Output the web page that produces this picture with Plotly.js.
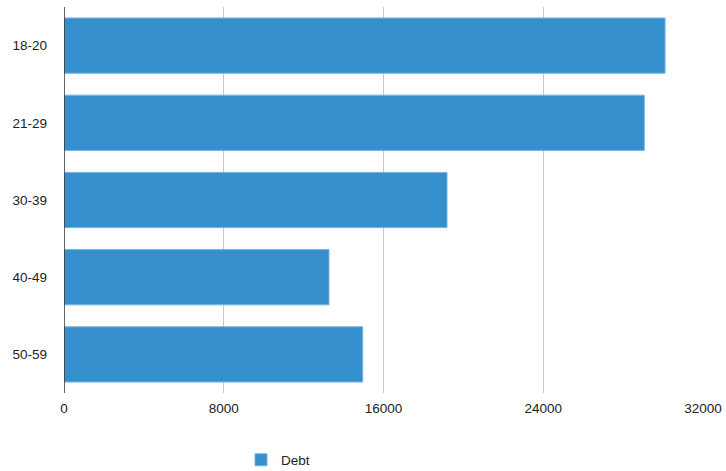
<!DOCTYPE html>
<html>
<head>
<meta charset="utf-8">
<script src="https://cdn.plot.ly/plotly-3.0.1.min.js"></script>
<style>html,body{margin:0;padding:0;background:#fff;}#chart{width:726px;height:471px;}</style>
</head>
<body>
<div id="chart"></div>
<script>
var categories = ["18-20", "21-29", "30-39", "40-49", "50-59"];
var debtValues = [30100, 29060, 19180, 13270, 14960];
var xTickValues = [0, 8000, 16000, 24000, 32000];
var xTickLabels = ["0", "8000", "16000", "24000", "32000"];
var seriesName = "Debt";

var trace = {
  type: "bar",
  orientation: "h",
  name: seriesName,
  y: categories,
  x: debtValues,
  marker: {color: "#368fcd", line: {color: "#73b3e3", width: 1}},
  showlegend: true,
  hoverinfo: "x+y"
};

var layout = {
  width: 726, height: 471,
  margin: {l: 64, r: 23, t: 7, b: 78, pad: 0, autoexpand: false},
  paper_bgcolor: "#ffffff", plot_bgcolor: "#ffffff",
  font: {family: "Liberation Sans, Arial, sans-serif", size: 13.5, color: "#222222"},
  bargap: 0.285,
  showlegend: true,
  legend: {orientation: "h", xref: "container", yref: "container",
           x: 241 / 726, xanchor: "left", y: 1 - 460 / 471, yanchor: "middle",
           font: {size: 13.5, color: "#222222"}, bgcolor: "rgba(0,0,0,0)"},
  xaxis: {range: [0, 32000], tickvals: xTickValues, ticktext: xTickLabels,
          showgrid: true, gridcolor: "#c8c8c8", gridwidth: 1, zeroline: false,
          showline: false, ticks: "", ticklabelstandoff: 5, fixedrange: true},
  yaxis: {autorange: "reversed", type: "category", showgrid: false, zeroline: false,
          showline: false, ticks: "", ticklabelstandoff: 16, fixedrange: true},
  shapes: [{type: "line", xref: "x", yref: "paper", x0: 0, x1: 0, y0: 0, y1: 1,
            line: {color: "#333333", width: 1.5}}]
};

Plotly.newPlot("chart", [trace], layout, {displayModeBar: false, staticPlot: true});
</script>
</body>
</html>
